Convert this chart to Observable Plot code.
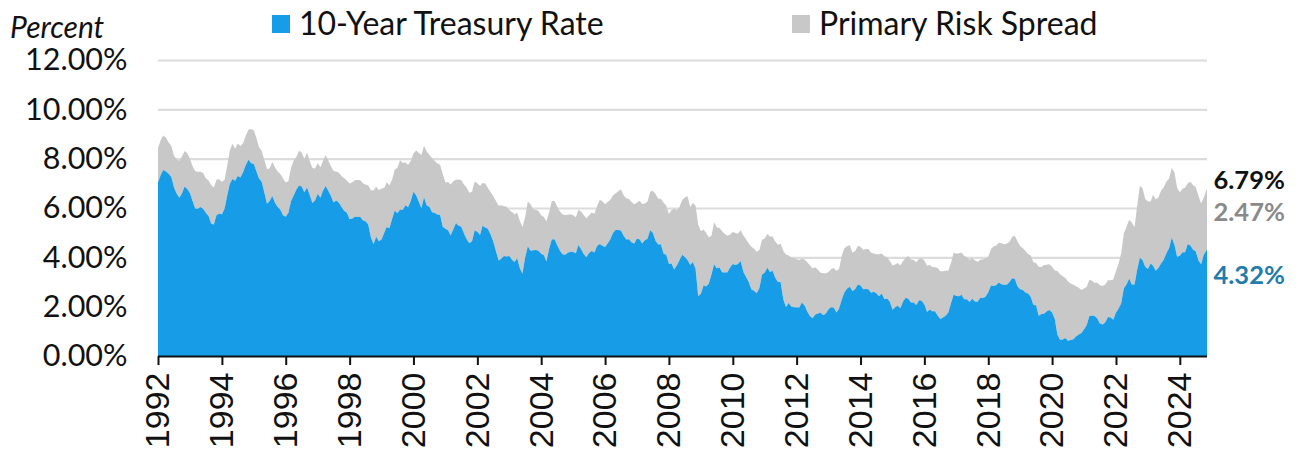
<!DOCTYPE html>
<html>
<head>
<meta charset="utf-8">
<script src="https://cdn.jsdelivr.net/npm/d3@7"></script>
<script src="https://cdn.jsdelivr.net/npm/@observablehq/plot@0.6"></script>
<style>
  html, body { margin: 0; padding: 0; background: #fff; }
  #wrap { position: relative; width: 1300px; height: 454px; font-family: Lato, sans-serif; }
  .lg { position: absolute; font-size: 32px; line-height: 1; color: #111; white-space: nowrap; }
  .sw { position: absolute; width: 18px; height: 18px; }
</style>
</head>
<body>
<div id="wrap">
  <div class="lg" style="left:10px; top:11px; font-size:30px; font-style:italic;">Percent</div>
  <div class="sw" style="left:272px; top:15px; background:#179CE8;"></div>
  <div class="lg" style="left:299px; top:7px;">10-Year Treasury Rate</div>
  <div class="sw" style="left:792px; top:15px; background:#C8C8C8;"></div>
  <div class="lg" style="left:819px; top:7px;">Primary Risk Spread</div>
</div>
<script>
// Monthly averages, Jan 1992 .. Oct 2024
const treasury10y = [
  7.03,7.34,7.54,7.48,7.39,7.26,6.84,6.59,6.42,6.59,6.87,6.77, // 1992
  6.60,6.26,5.98,5.97,6.04,5.96,5.81,5.68,5.36,5.33,5.72,5.77, // 1993
  5.75,5.97,6.48,6.97,7.18,7.10,7.30,7.24,7.46,7.74,7.96,7.81, // 1994
  7.78,7.47,7.20,7.06,6.63,6.17,6.28,6.49,6.20,6.04,5.93,5.71, // 1995
  5.65,5.81,6.27,6.51,6.74,6.91,6.87,6.64,6.83,6.53,6.20,6.30, // 1996
  6.58,6.42,6.69,6.89,6.71,6.49,6.22,6.30,6.21,6.03,5.88,5.81, // 1997
  5.54,5.57,5.65,5.64,5.65,5.50,5.46,5.34,4.81,4.53,4.83,4.65, // 1998
  4.72,5.00,5.23,5.18,5.54,5.90,5.79,5.94,5.92,6.11,6.03,6.28, // 1999
  6.66,6.52,6.26,5.99,6.44,6.10,6.05,5.83,5.80,5.74,5.72,5.24, // 2000
  5.16,5.10,4.89,5.14,5.39,5.28,5.24,4.97,4.73,4.57,4.65,5.09, // 2001
  5.04,4.91,5.28,5.21,5.16,4.93,4.65,4.26,3.87,3.94,4.05,4.03, // 2002
  4.05,3.90,3.81,3.96,3.57,3.33,3.98,4.45,4.27,4.29,4.30,4.27, // 2003
  4.15,4.08,3.83,4.35,4.72,4.73,4.50,4.28,4.13,4.10,4.19,4.23, // 2004
  4.22,4.17,4.50,4.34,4.14,4.00,4.18,4.26,4.20,4.46,4.54,4.47, // 2005
  4.42,4.57,4.72,4.99,5.11,5.11,5.09,4.88,4.72,4.73,4.60,4.56, // 2006
  4.76,4.72,4.56,4.69,4.75,5.10,5.00,4.67,4.52,4.53,4.15,4.10, // 2007
  3.74,3.74,3.51,3.68,3.88,4.10,4.01,3.89,3.69,3.81,3.53,2.42, // 2008
  2.52,2.87,2.82,2.93,3.29,3.72,3.56,3.59,3.40,3.39,3.40,3.59, // 2009
  3.73,3.69,3.73,3.85,3.42,3.20,3.01,2.70,2.65,2.54,2.76,3.29, // 2010
  3.39,3.58,3.41,3.46,3.17,3.00,3.00,2.30,1.98,2.15,2.01,1.98, // 2011
  1.97,1.97,2.17,2.05,1.80,1.62,1.53,1.68,1.72,1.75,1.65,1.72, // 2012
  1.91,1.98,1.96,1.76,1.93,2.30,2.58,2.74,2.81,2.62,2.72,2.90, // 2013
  2.86,2.71,2.72,2.71,2.56,2.60,2.54,2.42,2.53,2.30,2.33,2.21, // 2014
  1.88,1.98,2.04,1.94,2.20,2.36,2.32,2.17,2.17,2.07,2.26,2.24, // 2015
  2.09,1.78,1.89,1.81,1.81,1.64,1.50,1.56,1.63,1.76,2.14,2.49, // 2016
  2.43,2.42,2.48,2.30,2.30,2.19,2.32,2.21,2.20,2.36,2.35,2.40, // 2017
  2.58,2.86,2.84,2.87,2.98,2.91,2.89,2.89,3.00,3.15,3.12,2.83, // 2018
  2.71,2.68,2.57,2.53,2.40,2.07,2.06,1.63,1.70,1.71,1.81,1.86, // 2019
  1.76,1.50,0.87,0.66,0.67,0.73,0.62,0.65,0.68,0.79,0.87,0.93, // 2020
  1.08,1.26,1.61,1.64,1.62,1.52,1.32,1.28,1.37,1.58,1.56,1.47, // 2021
  1.76,1.93,2.13,2.75,2.90,3.14,2.90,2.90,3.52,3.98,3.89,3.62, // 2022
  3.53,3.75,3.66,3.46,3.57,3.75,3.90,4.17,4.38,4.80,4.50,4.02, // 2023
  4.06,4.21,4.21,4.54,4.48,4.31,4.25,3.87,3.72,4.10            // 2024
];
// Treasury + primary risk spread (= 30-year mortgage rate), Jan 1992 .. Oct 2024
const treasuryPlusSpread = [
  8.43,8.76,8.94,8.85,8.67,8.51,8.13,7.98,7.92,8.09,8.31,8.22, // 1992
  7.99,7.68,7.50,7.47,7.47,7.42,7.21,7.11,6.92,6.83,7.16,7.17, // 1993
  7.06,7.15,7.68,8.32,8.60,8.40,8.61,8.51,8.64,8.93,9.17,9.20, // 1994
  9.15,8.83,8.46,8.32,7.96,7.57,7.61,7.86,7.64,7.48,7.38,7.20, // 1995
  7.03,7.08,7.62,7.93,8.07,8.32,8.25,8.00,8.23,7.92,7.62,7.60, // 1996
  7.82,7.65,7.90,8.14,7.94,7.69,7.50,7.48,7.43,7.29,7.21,7.10, // 1997
  6.99,7.04,7.13,7.14,7.14,7.00,6.95,6.92,6.72,6.71,6.87,6.72, // 1998
  6.79,6.81,7.04,6.92,7.15,7.55,7.63,7.94,7.82,7.85,7.74,7.91, // 1999
  8.21,8.33,8.24,8.15,8.52,8.29,8.15,8.03,7.91,7.80,7.75,7.38, // 2000
  7.03,7.05,6.95,7.08,7.15,7.16,7.13,6.95,6.82,6.62,6.66,7.07, // 2001
  7.00,6.89,7.01,6.99,6.81,6.65,6.49,6.29,6.09,6.11,6.07,6.05, // 2002
  5.92,5.84,5.75,5.81,5.48,5.23,5.63,6.26,6.15,5.95,5.93,5.88, // 2003
  5.71,5.64,5.45,5.83,6.27,6.29,6.06,5.87,5.75,5.72,5.73,5.75, // 2004
  5.71,5.63,5.93,5.86,5.72,5.58,5.70,5.82,5.77,6.07,6.33,6.27, // 2005
  6.15,6.25,6.32,6.51,6.60,6.68,6.76,6.52,6.40,6.36,6.24,6.14, // 2006
  6.22,6.29,6.16,6.18,6.26,6.66,6.70,6.57,6.38,6.38,6.21,6.10, // 2007
  5.76,5.92,5.97,5.92,6.04,6.32,6.43,6.48,6.04,6.20,6.09,5.33, // 2008
  5.06,5.13,5.00,4.81,4.86,5.42,5.22,5.19,5.06,4.95,4.88,4.93, // 2009
  5.03,4.99,4.97,5.10,4.89,4.74,4.56,4.43,4.35,4.23,4.30,4.71, // 2010
  4.76,4.95,4.84,4.84,4.64,4.51,4.55,4.27,4.11,4.07,3.99,3.96, // 2011
  3.92,3.89,3.95,3.91,3.80,3.68,3.55,3.60,3.50,3.38,3.35,3.35, // 2012
  3.41,3.53,3.57,3.45,3.54,4.07,4.37,4.46,4.49,4.19,4.26,4.46, // 2013
  4.43,4.30,4.34,4.34,4.19,4.16,4.13,4.12,4.16,4.04,4.00,3.86, // 2014
  3.67,3.71,3.77,3.67,3.84,3.98,4.05,3.91,3.89,3.80,3.94,3.96, // 2015
  3.87,3.66,3.69,3.61,3.60,3.57,3.44,3.44,3.46,3.47,3.77,4.20, // 2016
  4.15,4.17,4.20,4.05,4.01,3.90,3.97,3.88,3.81,3.90,3.92,3.95, // 2017
  4.03,4.33,4.44,4.47,4.59,4.57,4.53,4.55,4.63,4.83,4.87,4.64, // 2018
  4.46,4.37,4.27,4.14,4.07,3.80,3.77,3.62,3.61,3.69,3.70,3.72, // 2019
  3.62,3.47,3.45,3.31,3.23,3.16,3.02,2.94,2.89,2.83,2.77,2.68, // 2020
  2.74,2.81,3.08,3.06,2.96,2.98,2.87,2.84,2.90,3.07,3.07,3.10, // 2021
  3.45,3.76,4.17,4.98,5.23,5.52,5.41,5.22,6.11,6.90,6.80,6.36, // 2022
  6.27,6.26,6.54,6.34,6.43,6.71,6.84,7.07,7.20,7.62,7.44,6.82, // 2023
  6.64,6.78,6.82,7.00,7.06,6.92,6.85,6.50,6.18,6.43            // 2024
];
// Latest weekly reading (Nov 7, 2024)
const latestDate = "2024-11-07";
const latestTreasury = 4.32;
const latestTotal = 6.79;
const latestSpread = 2.47;

const seriesNames = ["10-Year Treasury Rate", "Primary Risk Spread"];
const yTicks = [0, 2, 4, 6, 8, 10, 12];
const xTickYears = [1992,1994,1996,1998,2000,2002,2004,2006,2008,2010,2012,2014,2016,2018,2020,2022,2024];

const BLUE = "#179CE8", GRAY = "#C8C8C8";

const start = new Date(Date.UTC(1992, 0, 1));
const rows = treasury10y.map((t, i) => ({
  date: d3.utcMonth.offset(start, i),
  treasury: t,
  total: treasuryPlusSpread[i]
}));
rows.push({date: new Date(latestDate), treasury: latestTreasury, total: latestTotal});
const last = rows[rows.length - 1];

const labelOpts = {x: () => last.date, dx: 6, textAnchor: "start", fontSize: 25.5, fontWeight: "bold", fontFamily: "Lato"};

const chart = Plot.plot({
  width: 1300,
  height: 454,
  marginLeft: 158,
  marginRight: 93,
  marginTop: 60,
  marginBottom: 98,
  style: {fontFamily: "Lato, sans-serif", color: "#111", background: "transparent", overflow: "visible"},
  x: {type: "utc", domain: [start, last.date]},
  y: {domain: [0, 12]},
  marks: [
    Plot.gridY(yTicks.filter(d => d > 0), {stroke: "#DCDCDC", strokeOpacity: 1, strokeWidth: 2.2}),
    Plot.areaY(rows, {x: "date", y1: "treasury", y2: "total", fill: GRAY, curve: "linear"}),
    Plot.areaY(rows, {x: "date", y1: 0, y2: "treasury", fill: BLUE, curve: "linear"}),
    Plot.axisY({ticks: yTicks, tickSize: 0, tickPadding: 31, tickFormat: d => d.toFixed(2) + "%",
      fontSize: 30.5, fontFamily: "Lato", fill: "#111", label: null}),
    Plot.ruleY([0], {stroke: "#111", strokeWidth: 2.2}),
    Plot.axisX({ticks: xTickYears.map(y => new Date(Date.UTC(y, 0, 1))), tickFormat: d => String(d.getUTCFullYear()),
      tickRotate: -90, tickSize: 9, tickPadding: 7, fontSize: 34, fontFamily: "Liberation Sans",
      stroke: "#111", strokeWidth: 2, fill: "#111", label: null}),
    Plot.text([last], {...labelOpts, y: "total", text: () => latestTotal.toFixed(2) + "%", fill: "#111111", dy: -8}),
    Plot.text([last], {...labelOpts, y: d => (d.total + d.treasury) / 2, text: () => latestSpread.toFixed(2) + "%", fill: "#8A8A8A", dy: -7}),
    Plot.text([last], {...labelOpts, y: "treasury", text: () => latestTreasury.toFixed(2) + "%", fill: "#1F7CAB", dy: 26})
  ]
});
chart.style.position = "absolute";
chart.style.left = "0px";
chart.style.top = "0px";
document.getElementById("wrap").prepend(chart);
</script>
</body>
</html>
